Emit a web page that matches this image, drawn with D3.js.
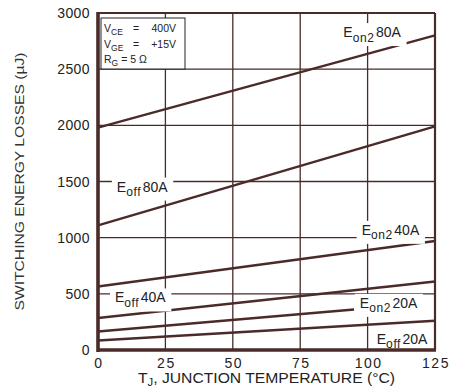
<!DOCTYPE html>
<html>
<head>
<meta charset="utf-8">
<script src="https://cdn.jsdelivr.net/npm/d3@7"></script>
<style>
  body { margin: 0; background: #fff; }
  text { font-family: "Liberation Sans", Arial, sans-serif; }
</style>
</head>
<body>
<svg class="graphique"></svg>
<script>
// data
const temps = [0, 125]
const xTicks = [0, 25, 50, 75, 100, 125]
const yTicks = [0, 500, 1000, 1500, 2000, 2500, 3000]

const eon2_80 = [1980, 2800]
const eoff_80 = [1110, 1990]
const eon2_40 = [565, 970]
const eoff_40 = [285, 610]
const eon2_20 = [165, 360]   // stops at 95 °C
const eon2_20_temps = [0, 95]
const eoff_20 = [85, 260]

const series = [
  { t: temps, v: eon2_80 },
  { t: temps, v: eoff_80 },
  { t: temps, v: eon2_40 },
  { t: temps, v: eoff_40 },
  { t: eon2_20_temps, v: eon2_20 },
  { t: temps, v: eoff_20 }
]

// labels: subscript, rest, anchor in data units
const labels = [
  { sub: "on2", rest: "80A", t: 91, v: 2786 },
  { sub: "off", rest: "80A", t: 7, v: 1410 },
  { sub: "on2", rest: "40A", t: 97.8, v: 1025 },
  { sub: "off", rest: "40A", t: 6.3, v: 423 },
  { sub: "on2", rest: "20A", t: 97.1, v: 375 },
  { sub: "off", rest: "20A", t: 103.4, v: 55 }
]

const col = "#4b2a2a"
const margin = { top: 13, right: 19, bottom: 39, left: 98 },
  W = 454, H = 389,
  width = W - margin.left - margin.right,
  height = H - margin.top - margin.bottom

const svg = d3.select(".graphique").attr("width", W).attr("height", H)
const g = svg.append("g").attr("transform", "translate(" + margin.left + "," + margin.top + ")")

const x = d3.scaleLinear().domain([0, 125]).range([0, width])
const y = d3.scaleLinear().domain([0, 3000]).range([height, 0])

// grille
g.selectAll(".vgrid").data(xTicks).enter().append("line")
  .attr("x1", d => x(d)).attr("x2", d => x(d))
  .attr("y1", 0).attr("y2", height)
  .attr("stroke", col).attr("stroke-width", 1.3)
g.selectAll(".hgrid").data(yTicks).enter().append("line")
  .attr("x1", 0).attr("x2", width)
  .attr("y1", d => y(d)).attr("y2", d => y(d))
  .attr("stroke", col).attr("stroke-width", 1.3)

// courbes
const line = d3.line().x(d => x(d[0])).y(d => y(d[1]))
series.forEach(s => {
  g.append("path")
    .datum(s.t.map((t, i) => [t, s.v[i]]))
    .attr("d", line)
    .attr("fill", "none")
    .attr("stroke", col)
    .attr("stroke-width", 2.4)
})

// étiquettes des courbes (fond blanc qui coupe la grille)
labels.forEach(l => {
  const lx = x(l.t), ly = y(l.v)
  const bg = g.append("rect").attr("fill", "#fff")
  const tx = g.append("text").attr("x", lx).attr("y", ly)
    .attr("font-size", 14).attr("fill", "#222")
  tx.append("tspan").text("E")
  tx.append("tspan").attr("font-size", 12).attr("letter-spacing", 0.6).attr("dy", 4.5).text(l.sub)
  tx.append("tspan").attr("dy", -4.5).attr("dx", 1.5).text(l.rest)
  const bb = tx.node().getBBox()
  bg.attr("x", bb.x - 5).attr("y", ly - 14)
    .attr("width", bb.width + 10).attr("height", 23)
})

// cadre (après les étiquettes pour ne pas être masqué)
g.append("line").attr("x1", 0).attr("x2", width).attr("y1", 0).attr("y2", 0)
  .attr("stroke", col).attr("stroke-width", 2.2)
g.append("line").attr("x1", width).attr("x2", width).attr("y1", 0).attr("y2", height)
  .attr("stroke", col).attr("stroke-width", 2.2)
g.append("line").attr("x1", 0).attr("x2", 0).attr("y1", -1).attr("y2", height + 2)
  .attr("stroke", col).attr("stroke-width", 3.6)
g.append("line").attr("x1", -1).attr("x2", width + 1).attr("y1", height).attr("y2", height)
  .attr("stroke", col).attr("stroke-width", 3.6)

// légende
const leg = g.append("g").attr("transform", "translate(3,5)")
leg.append("rect").attr("width", 84).attr("height", 51)
  .attr("fill", "#fff").attr("stroke", "#222").attr("stroke-width", 1)
const legRows = [
  { sub: "CE", val: "400V" },
  { sub: "GE", val: "+15V" }
]
legRows.forEach((r, i) => {
  const yy = 13.7 + i * 16
  const t = leg.append("text").attr("x", 3).attr("y", yy)
    .attr("font-size", 10.5).attr("fill", "#222")
  t.append("tspan").text("V")
  t.append("tspan").attr("font-size", 8.5).attr("dy", 3).text(r.sub)
  leg.append("text").attr("x", 32).attr("y", yy)
    .attr("font-size", 10.5).attr("fill", "#222").text("=")
  leg.append("text").attr("x", 75).attr("y", yy)
    .attr("text-anchor", "end").attr("font-size", 10.5).attr("fill", "#222").text(r.val)
})
const rg = leg.append("text").attr("x", 3).attr("y", 44.7).attr("font-size", 10.5).attr("fill", "#222")
rg.append("tspan").text("R")
rg.append("tspan").attr("font-size", 8.5).attr("dy", 3).text("G")
rg.append("tspan").attr("dy", -3).text(" = 5 \u03A9")

// graduations
g.selectAll(".xl").data(xTicks).enter().append("text")
  .attr("x", d => x(d) + 1).attr("y", height + 18)
  .attr("text-anchor", "middle").attr("font-size", 14).attr("letter-spacing", 1.5)
  .attr("fill", "#222")
  .text(d => d)
g.selectAll(".yl").data(yTicks).enter().append("text")
  .attr("x", -8).attr("y", d => y(d) + 5)
  .attr("text-anchor", "end").attr("font-size", 14).attr("letter-spacing", 0.4)
  .attr("fill", "#222")
  .text(d => d)

// titres des axes
const xt = svg.append("text").attr("x", 138).attr("y", 383)
  .attr("font-size", 14).attr("fill", "#222")
  .attr("textLength", 257).attr("lengthAdjust", "spacingAndGlyphs")
xt.append("tspan").text("T")
xt.append("tspan").attr("font-size", 10).attr("dy", 3).text("J")
xt.append("tspan").attr("dy", -3).text(", JUNCTION TEMPERATURE (°C)")

svg.append("text")
  .attr("transform", "translate(24," + (margin.top + height / 2) + ") rotate(-90)")
  .attr("text-anchor", "middle").attr("font-size", 13.5).attr("fill", "#333")
  .attr("textLength", 258).attr("lengthAdjust", "spacingAndGlyphs")
  .text("SWITCHING ENERGY LOSSES (\u00B5J)")
</script>
</body>
</html>
